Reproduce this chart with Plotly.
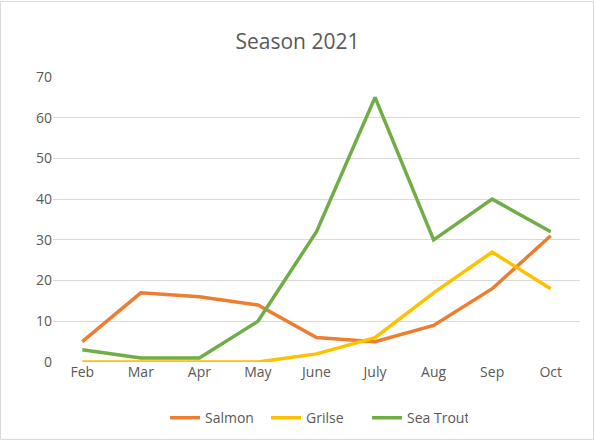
import plotly.graph_objects as go

months = ["Feb", "Mar", "Apr", "May", "June", "July", "Aug", "Sep", "Oct"]
salmon = [5, 17, 16, 14, 6, 5, 9, 18, 31]
grilse = [0, 0, 0, 0, 2, 6, 17, 27, 18]
sea_trout = [3, 1, 1, 10, 32, 65, 30, 40, 32]

W, H = 595, 446
L, R, T, B = 53, 15, 77, 80
pw, ph = W - L - R, H - T - B

fig = go.Figure()
for name, vals, col in [("Salmon", salmon, "#ED7D31"),
                        ("Grilse", grilse, "#FFC000"),
                        ("Sea Trout", sea_trout, "#70AD47")]:
    fig.add_trace(go.Scatter(x=months, y=vals, mode="lines", name=name,
                             line=dict(color=col, width=3.5)))

fig.update_layout(
    width=W, height=H,
    margin=dict(l=L, r=R, t=T, b=B),
    paper_bgcolor="white", plot_bgcolor="white",
    font=dict(family="Open Sans, Liberation Sans, sans-serif", size=14, color="#595959"),
    title=dict(text="Season 2021", x=0.5, xanchor="center", y=1 - 42 / H, yanchor="middle",
               font=dict(size=21, color="#595959")),
    xaxis=dict(range=[-0.5, 8.5], showgrid=False, showline=False, ticks="",
               tickfont=dict(size=14), zeroline=False),
    yaxis=dict(range=[0, 70], dtick=10, showgrid=True, gridcolor="#D9D9D9", gridwidth=1,
               zeroline=False, showline=False, ticks="", tickfont=dict(size=14)),
    legend=dict(orientation="h", x=0.5, xanchor="center", y=-(423 - T - ph) / ph,
                yanchor="middle", font=dict(size=14), itemwidth=30, entrywidth=56,
                tracegroupgap=0),
    shapes=[dict(type="rect", xref="paper", yref="paper",
                 x0=-(L - 0.5) / pw, x1=1 + (R - 1.5) / pw,
                 y0=-(B - 1.5) / ph, y1=1 + (T - 0.5) / ph,
                 line=dict(color="#D9D9D9", width=1), layer="below")],
)

# drop the browser's default page margin so the figure sits at the window corner
fig.write_html("out.html", config={"displayModeBar": False},
               post_script="document.body.style.margin='0';")
